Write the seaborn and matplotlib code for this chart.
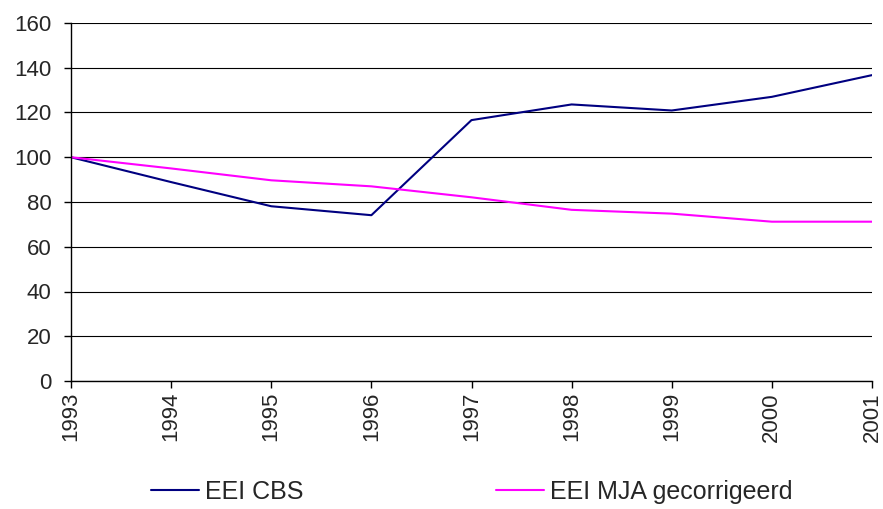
import matplotlib
matplotlib.use("Agg")
import matplotlib.pyplot as plt
import seaborn as sns
import pandas as pd

years = [1993, 1994, 1995, 1996, 1997, 1998, 1999, 2000, 2001]
eei_cbs = [100, 88.9, 78.1, 74.1, 116.6, 123.6, 120.9, 127.0, 136.7]
eei_mja = [100, 95.0, 89.7, 87.0, 82.1, 76.5, 74.8, 71.2, 71.2]
series_names = ["EEI CBS", "EEI MJA gecorrigeerd"]
colors = ["#000080", "#FF00FF"]

df = pd.DataFrame({
    "jaar": years * 2,
    "waarde": eei_cbs + eei_mja,
    "reeks": [series_names[0]] * len(years) + [series_names[1]] * len(years),
})

sns.set_style("white")
plt.rcParams["font.family"] = ["Liberation Sans", "DejaVu Sans"]

fig = plt.figure(figsize=(8.83, 5.09), dpi=100)
ax = fig.add_axes([71 / 883, 1 - 381 / 509, (872 - 71) / 883, (381 - 23) / 509])

sns.lineplot(data=df, x="jaar", y="waarde", hue="reeks", palette=colors,
             linewidth=1.5, ax=ax, legend=False)

ax.set_xlim(1993, 2001)
ax.set_ylim(0, 160)
ax.set_yticks(range(0, 161, 20))
ax.set_xticks(years)
ax.set_xticklabels([str(y) for y in years], rotation=90)
ax.tick_params(axis="both", labelsize=16, direction="out", length=5, width=1,
               color="black", left=True, bottom=True)
ax.tick_params(axis="y", pad=9)
ax.tick_params(axis="x", pad=3)
ax.yaxis.grid(True, color="black", linewidth=0.8)
ax.set_axisbelow(True)
for s in ["top", "right"]:
    ax.spines[s].set_visible(False)
for s in ["left", "bottom"]:
    ax.spines[s].set_color("black")
    ax.spines[s].set_linewidth(1)
ax.set_xlabel("")
ax.set_ylabel("")

handles = [plt.Line2D([], [], color=c, linewidth=1.5) for c in colors]
fig.legend(handles, series_names, loc="center", bbox_to_anchor=(472 / 883, 1 - 492 / 509),
           ncol=2, frameon=False, fontsize=18, handlelength=1.92, handletextpad=0.24,
           columnspacing=7.7)

fig.savefig("out.png", dpi=100)
